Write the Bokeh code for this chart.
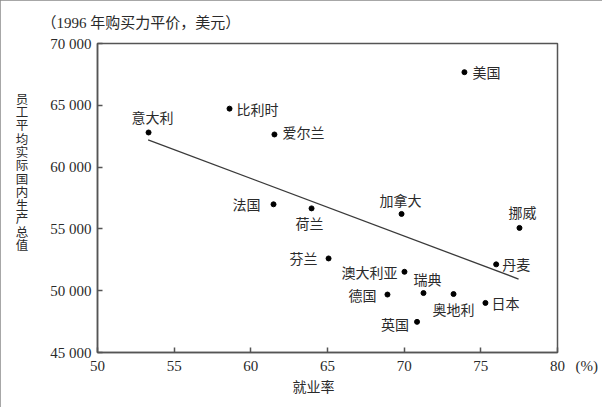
from bokeh.plotting import figure
from bokeh.models import Label, FixedTicker, Range1d
from bokeh.embed import file_html
from bokeh.resources import INLINE

countries = ["意大利", "比利时", "爱尔兰", "美国", "法国", "荷兰", "加拿大", "挪威",
             "芬兰", "丹麦", "澳大利亚", "瑞典", "德国", "奥地利", "日本", "英国"]
employment = [53.33, 58.61, 61.54, 73.93, 61.48, 63.96, 69.83, 77.52,
              65.07, 76.00, 70.02, 71.26, 68.91, 73.22, 75.30, 70.84]
gdp = [62800, 64730, 62640, 67680, 56990, 56660, 56210, 55080,
       52610, 52130, 51530, 49810, 49690, 49730, 49010, 47480]
trend_x = [53.3, 77.46]
trend_y = [62210, 50944]
x_ticks = [50, 55, 60, 65, 70, 75, 80]
x_tick_labels = ["50", "55", "60", "65", "70", "75", "80"]
y_ticks = [45000, 50000, 55000, 60000, 65000, 70000]
y_tick_labels = ["45 000", "50 000", "55 000", "60 000", "65 000", "70 000"]
title_text = "（1996 年购买力平价，美元）"
y_label = "员工平均实际国内生产总值"
x_label = "就业率"
unit_text = "(%)"

# label placement (screen px offsets from each dot, align)
lab_dx = [4, 7, 8, 8, -13, -2, -1, 3, -11, 6, -7, 4, -11, 0, 6, -8]
lab_dy = [15, 0, 2, 0, 0, -15, 14, 16, 0, 0, 0, 14, 0, -15, 0, -2]
lab_align = ["center", "left", "left", "left", "right", "center", "center", "center",
             "right", "left", "right", "center", "right", "center", "left", "right"]

W, H = 602, 407
L, R, T, B = 97, 45, 42, 55

p = figure(width=W, height=H, output_backend="svg", toolbar_location=None,
           x_range=Range1d(50, 80), y_range=Range1d(45000, 70000),
           min_border_left=L, min_border_right=R, min_border_top=T, min_border_bottom=B)
p.styles = {"outline": "2px solid #8a8a8a", "outline-offset": "-2px"}
p.grid.visible = False
p.outline_line_color = "#555555"
p.outline_line_width = 1.5
p.background_fill_color = "white"
p.border_fill_color = "white"

serif = "Liberation Serif"
cjk = "Noto Sans CJK SC"
txt_col = "#2a2a2a"

# title (top-left, outside the frame)
p.title.text = title_text
p.title.align = "left"
p.title.offset = -56
p.title.standoff = 25
p.title.text_font = "'Liberation Serif', 'Noto Sans CJK SC'"
p.title.text_font_size = "15px"
p.title.text_font_style = "normal"
p.title.text_color = txt_col

for ax in (p.xaxis[0], p.yaxis[0]):
    ax.axis_line_color = "#555555"
    ax.axis_line_width = 1.5
    ax.major_tick_line_color = "#555555"
    ax.major_tick_line_width = 1.5
    ax.major_tick_in = 5
    ax.major_tick_out = 0
    ax.minor_tick_line_color = None
    ax.major_label_text_font = serif
    ax.major_label_text_font_size = "15px"
    ax.major_label_text_color = txt_col
    ax.axis_label_text_font = cjk
    ax.axis_label_text_font_style = "normal"
    ax.axis_label_text_color = txt_col

# x axis: the last tick carries the unit, padded on the left to keep "80" centred
pad_r = "\u2002\u2009" + unit_text
pad_l = "\u2003\u2003\u2009"
xo = {t: s for t, s in zip(x_ticks, x_tick_labels)}
xo[x_ticks[-1]] = pad_l + x_tick_labels[-1] + pad_r
p.xaxis[0].ticker = FixedTicker(ticks=x_ticks)
p.xaxis[0].major_label_overrides = xo
p.xaxis[0].major_label_standoff = 5
p.xaxis[0].axis_label = x_label + "\u3000\u3000"
p.xaxis[0].axis_label_text_font_size = "14px"
p.xaxis[0].axis_label_standoff = -1

p.yaxis[0].ticker = FixedTicker(ticks=y_ticks)
p.yaxis[0].major_label_overrides = {t: s for t, s in zip(y_ticks, y_tick_labels)}
p.yaxis[0].major_label_standoff = 6
p.yaxis[0].axis_label = "\n".join(list(y_label) + ["\u3000"] * 4)
p.yaxis[0].axis_label_orientation = "horizontal"
p.yaxis[0].axis_label_text_font_size = "12.5px"
p.yaxis[0].axis_label_text_line_height = 0.70
p.yaxis[0].axis_label_standoff = 19

p.line(trend_x, trend_y, line_color="#3a3a3a", line_width=1.3)
p.scatter(employment, gdp, size=5, color="black")

for c, x, y, dx, dy, al in zip(countries, employment, gdp, lab_dx, lab_dy, lab_align):
    p.add_layout(Label(x=x, y=y, text=c, x_offset=dx, y_offset=dy, text_align=al,
                       text_baseline="middle", text_font=cjk, text_font_size="14px",
                       text_color=txt_col))

open("out.html", "w").write(file_html(p, INLINE))
